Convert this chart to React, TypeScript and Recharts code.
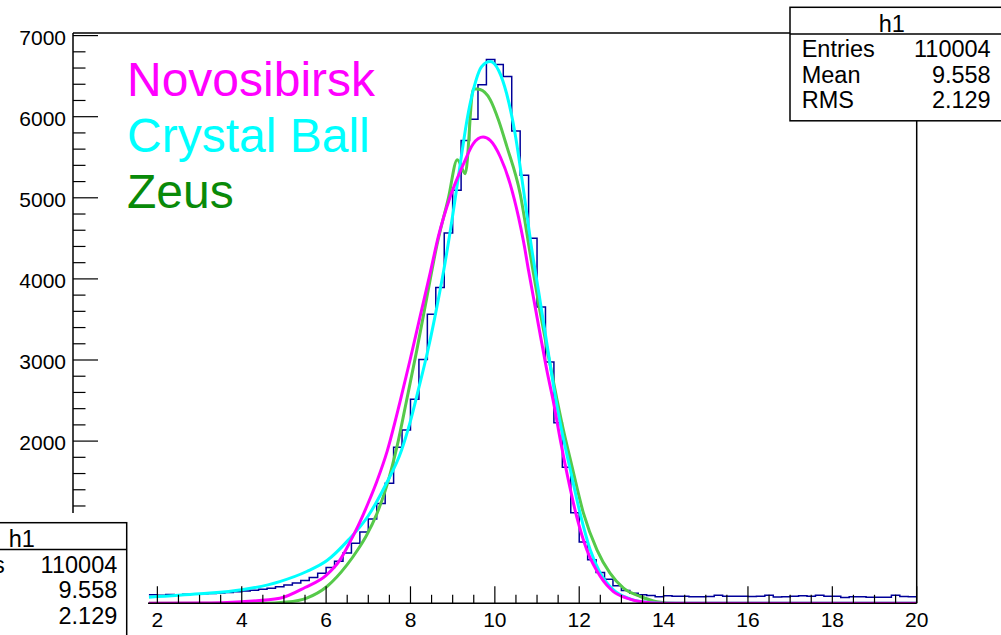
import React from "react";
import { ComposedChart, Line, XAxis, YAxis } from "recharts";

const W = 1001;
const H = 635;
const FONT = "'Liberation Sans', Arial, Helvetica, sans-serif";

// h1 histogram: bins of 0.2, first visible bin starts at 1.8
const histStart = 1.8;
const histBinWidth = 0.2;
const histCounts = [
  105, 98, 110, 106, 112, 115, 118, 122, 128, 134, // 1.8 - 3.6
  143, 152, 160, 172, 186, 205, 225, 250, 282, 318, // 3.8 - 5.6
  372, 440, 520, 620, 740, 880, 1040, 1230, 1480, 1924, // 5.8 - 7.6
  2137, 2515, 3007, 3565, 3894, 4567, 5092, 5708, 5967, 6394, // 7.8 - 9.6
  6706, 6644, 6496, 5823, 5277, 4500, 3655, 2974, 2227, 1677, // 9.8 - 11.6
  1118, 757, 536, 379, 298, 215, 158, 125, 105, 96, // 11.8 - 13.6
  80, 94, 86, 86, 80, 80, 84, 100, 86, 86, // 13.8 - 15.6
  88, 84, 86, 100, 78, 82, 88, 92, 86, 98, // 15.8 - 17.6
  86, 88, 72, 80, 80, 76, 76, 74, 100, 84, // 17.8 - 19.6
  80, // 19.8
];
const histEnd = 20;

// fitted curves as (x, y)
const novosibirsk = [
  [1.8, 0], [3.0, 3], [4.0, 20], [4.9, 62], [5.5, 195], [6.0, 345], [6.33, 536],
  [6.57, 760], [6.8, 1000], [7.0, 1240], [7.2, 1500], [7.45, 1880], [7.75, 2480],
  [7.99, 3000], [8.23, 3540], [8.47, 4080], [8.66, 4520], [8.94, 5010], [9.26, 5421],
  [9.49, 5668], [9.72, 5749], [9.89, 5708], [10.13, 5503], [10.36, 5175], [10.56, 4764],
  [10.68, 4460], [10.8, 4100], [11.07, 3328], [11.23, 2880], [11.39, 2480], [11.55, 2020],
  [11.71, 1600], [11.94, 1069], [12.18, 659], [12.5, 330], [12.81, 145], [13.13, 64],
  [13.5, 15], [14.0, 0], [20, 0],
];
const crystalBall = [
  [1.8, 76], [3.0, 117], [4.0, 166], [4.9, 268], [5.54, 392], [6.02, 527], [6.53, 782],
  [7.0, 1080], [7.4, 1450], [7.79, 1890], [7.99, 2230], [8.19, 2640], [8.43, 3160],
  [8.62, 3640], [8.82, 4200], [9.02, 4850], [9.22, 5560], [9.34, 5960], [9.49, 6330],
  [9.69, 6620], [9.89, 6680], [10.09, 6570], [10.28, 6283], [10.48, 5791], [10.68, 5092],
  [10.86, 4420], [11.07, 3738], [11.27, 3080], [11.43, 2560], [11.55, 2219], [11.79, 1644],
  [12.02, 1111], [12.26, 659], [12.5, 372], [12.81, 166], [13.2, 55], [13.6, 12], [14.0, 0],
  [20, 0],
];
const zeus = [
  [1.8, 0], [4.5, 0], [5.07, 15], [5.54, 64], [6.02, 207], [6.49, 470], [6.75, 660],
  [6.96, 840], [7.2, 1100], [7.45, 1470], [7.68, 1931], [7.91, 2507], [8.15, 3122],
  [8.39, 3778], [8.62, 4400], [8.9, 5000], [9.11, 5470], [9.3, 5298], [9.49, 6345],
  [9.65, 6335], [9.89, 6210], [10.09, 5954], [10.28, 5640], [10.6, 5050], [10.84, 4300],
  [11.07, 3600], [11.27, 3050], [11.47, 2520], [11.59, 2219], [11.83, 1685], [12.1, 1111],
  [12.42, 659], [12.73, 372], [13.05, 187], [13.45, 84], [13.84, 20], [14.3, 0], [20, 0],
];

const xTicks = [
  0, 0.5, 1, 1.5, 2, 2.5, 3, 3.5, 4, 4.5, 5, 5.5, 6, 6.5, 7, 7.5, 8, 8.5, 9, 9.5, 10,
  10.5, 11, 11.5, 12, 12.5, 13, 13.5, 14, 14.5, 15, 15.5, 16, 16.5, 17, 17.5, 18, 18.5,
  19, 19.5, 20,
];
const yTicks = [
  0, 200, 400, 600, 800, 1000, 1200, 1400, 1600, 1800, 2000, 2200, 2400, 2600, 2800,
  3000, 3200, 3400, 3600, 3800, 4000, 4200, 4400, 4600, 4800, 5000, 5200, 5400, 5600,
  5800, 6000, 6200, 6400, 6600, 6800, 7000,
];

const stats = [
  ["Entries", "110004"],
  ["Mean", "9.558"],
  ["RMS", "2.129"],
];

const legend = [
  { label: "Novosibirsk", color: "#ff00ff" },
  { label: "Crystal Ball", color: "#00ffff" },
  { label: "Zeus", color: "#098a09" },
];

// lower-left corner is covered by a second stats box
const COVER_X = 148;
const COVER_Y = 513;

const histData = histCounts.map((c, i) => ({ x: histStart + i * histBinWidth, y: c }));
histData.push({ x: histEnd, y: histCounts[histCounts.length - 1] });
const toPts = (a: number[][]) => a.map(([x, y]) => ({ x, y }));

const XTick = (props: any) => {
  const { x, y, payload } = props;
  const major = payload.value % 2 === 0;
  return (
    <g>
      <line x1={x} y1={y} x2={x} y2={y - (major ? 17 : 8.5)} stroke="#000" strokeWidth={1.2} />
      {major && x >= COVER_X && (
        <text x={x} y={y + 24} textAnchor="middle" fontSize={21} fontFamily={FONT} fill="#000">
          {payload.value}
        </text>
      )}
    </g>
  );
};

const YTick = (props: any) => {
  const { x, y, payload } = props;
  const major = payload.value % 1000 === 0;
  return (
    <g>
      <line x1={x} y1={y} x2={x + (major ? 25 : 12.5)} y2={y} stroke="#000" strokeWidth={1.2} />
      {major && y < COVER_Y && (
        <text x={x - 7} y={y + 9} textAnchor="end" fontSize={21} fontFamily={FONT} fill="#000">
          {payload.value}
        </text>
      )}
    </g>
  );
};

const StatsBox = ({ x, y, w, valueRight }: { x: number; y: number; w: number; valueRight: number }) => (
  <g fontFamily={FONT} fontSize={23.5} fill="#000">
    <rect x={x} y={y} width={w} height={113.5} fill="#fff" stroke="#000" strokeWidth={1.5} />
    <line x1={x} y1={y + 26.7} x2={x + w} y2={y + 26.7} stroke="#000" strokeWidth={1.5} />
    <text x={x + 101.7} y={y + 24.4} textAnchor="middle">h1</text>
    {stats.map(([k, v], i) => (
      <g key={k}>
        <text x={x + 11.7} y={y + 50 + i * 25.5}>{k}</text>
        <text x={valueRight} y={y + 50 + i * 25.5} textAnchor="end">{v}</text>
      </g>
    ))}
  </g>
);

export default function App() {
  return (
    <div style={{ position: "absolute", left: 0, top: 0, width: W, height: H, background: "#fff" }}>
      <ComposedChart width={W} height={H} margin={{ top: 33, right: 84.3, bottom: 0, left: 0 }}>
        <XAxis
          type="number"
          dataKey="x"
          domain={[0, 20]}
          ticks={xTicks}
          interval={0}
          tickSize={0}
          tickMargin={0}
          tickLine={false}
          tick={(p: any) => <XTick {...p} />}
          axisLine={{ stroke: "#000", strokeWidth: 1.5 }}
          height={31.7}
          allowDataOverflow
        />
        <YAxis
          type="number"
          domain={[0, 7032]}
          ticks={yTicks}
          interval={0}
          tickSize={0}
          tickMargin={0}
          tickLine={false}
          tick={(p: any) => <YTick {...p} />}
          axisLine={{ stroke: "#000", strokeWidth: 1.5 }}
          width={73}
          allowDataOverflow
        />
        <Line data={histData} dataKey="y" type="stepAfter" stroke="#000099" strokeWidth={1.5} dot={false} activeDot={false} isAnimationActive={false} />
        <Line data={toPts(zeus)} dataKey="y" type="monotone" stroke="#56c94a" strokeWidth={3} dot={false} activeDot={false} isAnimationActive={false} />
        <Line data={toPts(crystalBall)} dataKey="y" type="monotone" stroke="#00ffff" strokeWidth={3} dot={false} activeDot={false} isAnimationActive={false} />
        <Line data={toPts(novosibirsk)} dataKey="y" type="monotone" stroke="#ff00ff" strokeWidth={3} dot={false} activeDot={false} isAnimationActive={false} />
      </ComposedChart>
      <svg width={W} height={H} style={{ position: "absolute", left: 0, top: 0, pointerEvents: "none" }}>
        <line x1={73} y1={33} x2={916.7} y2={33} stroke="#000" strokeWidth={1.5} />
        <line x1={916.7} y1={33} x2={916.7} y2={603.3} stroke="#000" strokeWidth={1.5} />
        <rect x={0} y={COVER_Y} width={COVER_X} height={H - COVER_Y} fill="#fff" />
        <StatsBox x={790} y={7.3} w={240} valueRight={990.7} />
        <StatsBox x={-80} y={522.7} w={206.7} valueRight={117.3} />
        {legend.map((l, i) => (
          <text key={l.label} x={127} y={96 + i * 56.2} fontSize={48} fontFamily={FONT} fill={l.color}>
            {l.label}
          </text>
        ))}
      </svg>
    </div>
  );
}
